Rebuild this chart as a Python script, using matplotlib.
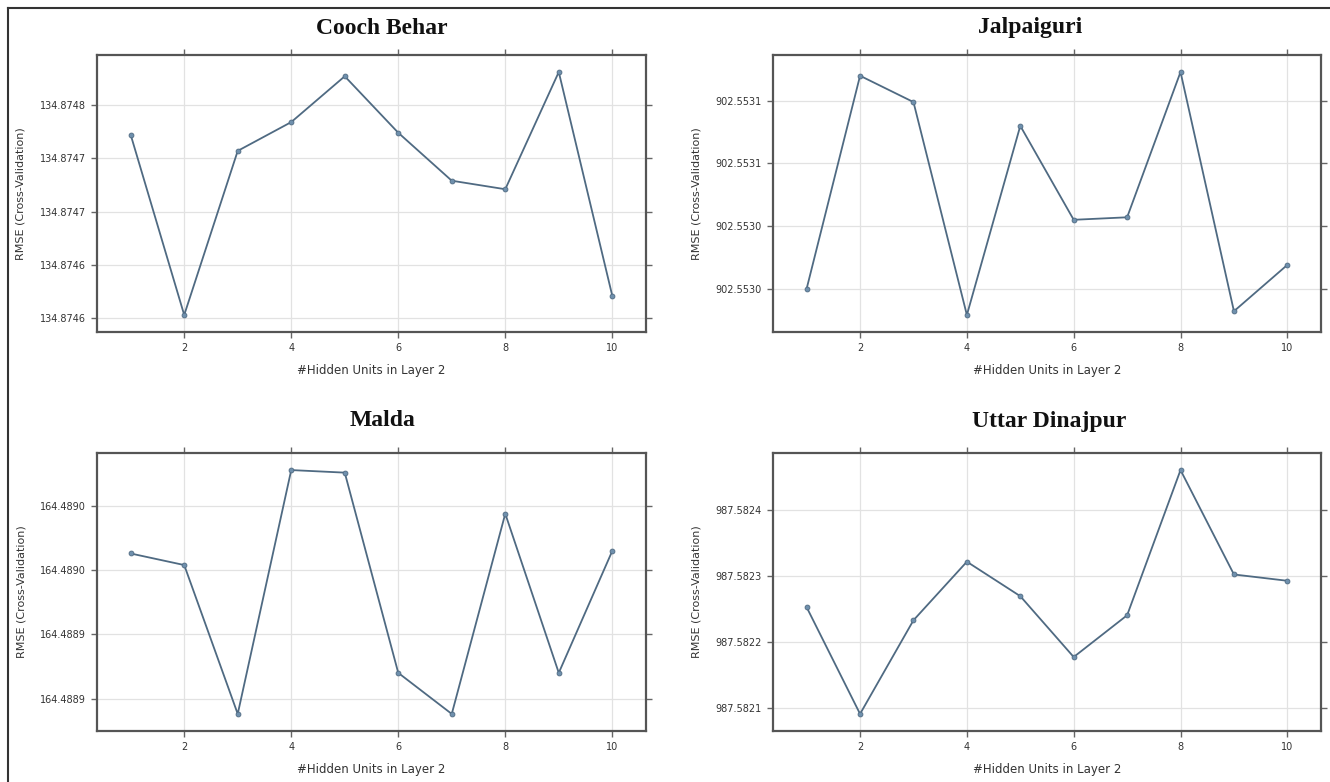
import matplotlib
matplotlib.use("Agg")
import matplotlib.pyplot as plt
from matplotlib.lines import Line2D

# ---------------- data ----------------
units = [1, 2, 3, 4, 5, 6, 7, 8, 9, 10]

cooch_behar = [134.874722, 134.874553, 134.874707, 134.874734, 134.874777,
               134.874724, 134.874679, 134.874671, 134.874781, 134.874571]
jalpaiguri = [902.553000, 902.553170, 902.553149, 902.552979, 902.553130,
              902.553055, 902.553057, 902.553173, 902.552982, 902.553019]
malda = [164.488963, 164.488954, 164.488838, 164.489028, 164.489026,
         164.488870, 164.488838, 164.488994, 164.488870, 164.488965]
uttar_dinajpur = [987.5822525, 987.5820903, 987.5822327, 987.5823217, 987.5822693,
                  987.5821768, 987.5822403, 987.5824610, 987.5823023, 987.5822927]

titles = ["Cooch Behar", "Jalpaiguri", "Malda", "Uttar Dinajpur"]

xticks = [2, 4, 6, 8, 10]

cooch_yticks = [134.87455, 134.87460, 134.87465, 134.87470, 134.87475]
cooch_ylabels = ["134.8746", "134.8746", "134.8747", "134.8747", "134.8748"]
jalp_yticks = [902.55300, 902.55305, 902.55310, 902.55315]
jalp_ylabels = ["902.5530", "902.5530", "902.5531", "902.5531"]
malda_yticks = [164.48885, 164.48890, 164.48895, 164.48900]
malda_ylabels = ["164.4889", "164.4889", "164.4890", "164.4890"]
uttar_yticks = [987.5821, 987.5822, 987.5823, 987.5824]
uttar_ylabels = ["987.5821", "987.5822", "987.5823", "987.5824"]

series = [cooch_behar, jalpaiguri, malda, uttar_dinajpur]
yticks_all = [cooch_yticks, jalp_yticks, malda_yticks, uttar_yticks]
ylabels_all = [cooch_ylabels, jalp_ylabels, malda_ylabels, uttar_ylabels]

# ---------------- layout ----------------
W, H = 1330, 782
fig = plt.figure(figsize=(W / 100, H / 100), dpi=100)
fig.patch.set_facecolor("white")

def frac(x0, y0, x1, y1):
    return [x0 / W, 1 - y1 / H, (x1 - x0) / W, (y1 - y0) / H]

boxes = [frac(97, 55, 646, 332), frac(773, 55, 1321, 332),
         frac(97, 453, 646, 731), frac(773, 453, 1321, 731)]
title_pos = [(382, 28), (1030, 28), (383, 420), (1049, 422)]

line_col = "#4f6a82"
mark_col = "#6f90ad"
frame_col = "#555555"

for i in range(4):
    ax = fig.add_axes(boxes[i])
    y = series[i]
    ax.plot(units, y, color=line_col, lw=1.3, marker="o", ms=3.5,
            mfc=mark_col, mec=line_col, mew=0.6, zorder=3)
    lo, hi = min(y), max(y)
    pad = 0.07 * (hi - lo)
    ax.set_ylim(lo - pad, hi + pad)
    ax.set_xlim(1 - 0.07 * 9, 10 + 0.07 * 9)
    ax.set_xticks(xticks)
    ax.set_xticklabels([str(t) for t in xticks])
    ax.set_yticks(yticks_all[i])
    ax.set_yticklabels(ylabels_all[i])
    ax.grid(True, color="#e2e2e2", lw=0.9, zorder=0)
    ax.set_axisbelow(True)
    ax.tick_params(axis="both", which="both", direction="out", length=4,
                   width=1.0, color="#666666", labelsize=7, labelcolor="#333333",
                   top=True, right=True, pad=4)
    for s in ax.spines.values():
        s.set_color(frame_col)
        s.set_linewidth(1.6)
    ax.set_xlabel("#Hidden Units in Layer 2", fontsize=8.5, color="#333333", labelpad=8)
    ax.set_ylabel("RMSE (Cross-Validation)", fontsize=8, color="#333333", labelpad=10)
    tx, ty = title_pos[i]
    fig.text(tx / W, 1 - ty / H, titles[i], ha="center", va="center",
             fontsize=17, fontweight="bold", family="Liberation Serif", color="#111111")

# outer border (left and top)
fig.add_artist(Line2D([8 / W, 8 / W], [0, 1 - 8 / H], transform=fig.transFigure,
                      color="#333333", lw=1.5))
fig.add_artist(Line2D([8 / W, 1], [1 - 8 / H, 1 - 8 / H], transform=fig.transFigure,
                      color="#333333", lw=1.5))

fig.savefig("out.png", dpi=100, facecolor="white")
